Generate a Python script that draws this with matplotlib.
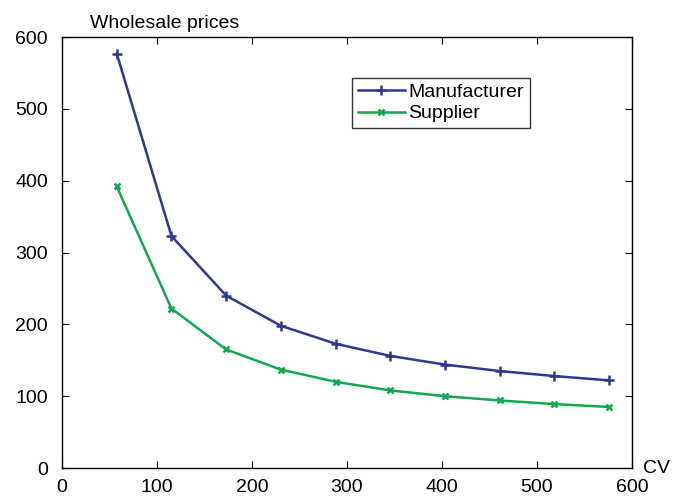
import matplotlib
matplotlib.use("Agg")
import matplotlib.pyplot as plt

cv = [57.6, 115.2, 172.8, 230.4, 288, 345.6, 403.2, 460.8, 518.4, 576]
manufacturer = [577, 323, 240, 198, 173, 156, 144, 135, 128, 122]
supplier = [392, 222, 165, 137, 120, 108, 100, 94, 89, 85]
ticks = [0, 100, 200, 300, 400, 500, 600]

plt.rcParams['font.family'] = ['Liberation Sans', 'DejaVu Sans']

fig = plt.figure(figsize=(6.88, 4.98), dpi=100)
ax = fig.add_axes([0.0901, 0.0602, 0.8285, 0.8655])

ax.plot(cv, manufacturer, color='#2b3990', lw=1.8, marker='+', ms=7, mew=1.8, label='Manufacturer')
ax.plot(cv, supplier, color='#12a84e', lw=1.8, marker='x', ms=5, mew=1.8, label='Supplier')

ax.set_xlim(0, 600)
ax.set_ylim(0, 600)
ax.set_xticks(ticks)
ax.set_yticks(ticks)
ax.tick_params(direction='in', top=True, right=True, labelsize=14, length=5)
ax.tick_params(axis='y', pad=10)
ax.tick_params(axis='x', pad=8)
for s in ax.spines.values():
    s.set_linewidth(1.0)

ax.text(0.05, 1.012, 'Wholesale prices', transform=ax.transAxes, fontsize=14, ha='left', va='bottom')
ax.text(1.02, 0.0, 'CV', transform=ax.transAxes, fontsize=14, ha='left', va='center')

leg = ax.legend(loc='upper left', bbox_to_anchor=(0.509, 0.906), fontsize=14, frameon=True,
                fancybox=False, edgecolor='black', borderpad=0.3, labelspacing=0.2,
                handlelength=2.4, handletextpad=0.2, borderaxespad=0)
leg.get_frame().set_linewidth(1.0)

fig.savefig('out.png', dpi=100)
